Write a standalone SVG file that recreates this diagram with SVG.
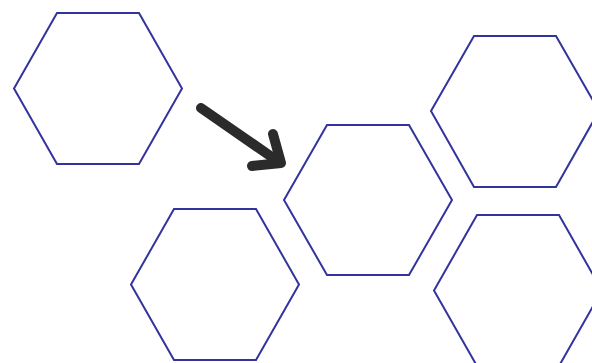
<svg xmlns="http://www.w3.org/2000/svg" width="592" height="363" viewBox="0 0 592 363">
<style>
.hex{fill:#ffffff;stroke:#33339e;stroke-width:2;stroke-linejoin:miter}
.arrow{fill:none;stroke:#2b2b2b;stroke-width:10;stroke-linecap:round;stroke-linejoin:round}
</style>
<rect width="592" height="363" fill="#ffffff"/>
<g id="hex-top-left"><polygon class="hex" points="57,13 139,13 182,88.5 139,164 57,164 14,88.5"/></g>
<g id="hex-center"><polygon class="hex" points="327,125 409,125 452,200 409,275 327,275 284,200"/></g>
<g id="hex-top-right"><polygon class="hex" points="474,36 556,36 599,111 556,187 474,187 431,111"/></g>
<g id="hex-bottom-left"><polygon class="hex" points="174,209 256,209 299,284.5 256,360 174,360 131,284.5"/></g>
<g id="hex-bottom-right"><polygon class="hex" points="477,215 559,215 602,290.5 559,366 477,366 434,290.5"/></g>
<g id="connectors">
<path class="arrow" d="M201,108 L279,162"/>
<path class="arrow" d="M273,134 L281,163 L252,166"/>
</g>
</svg>
